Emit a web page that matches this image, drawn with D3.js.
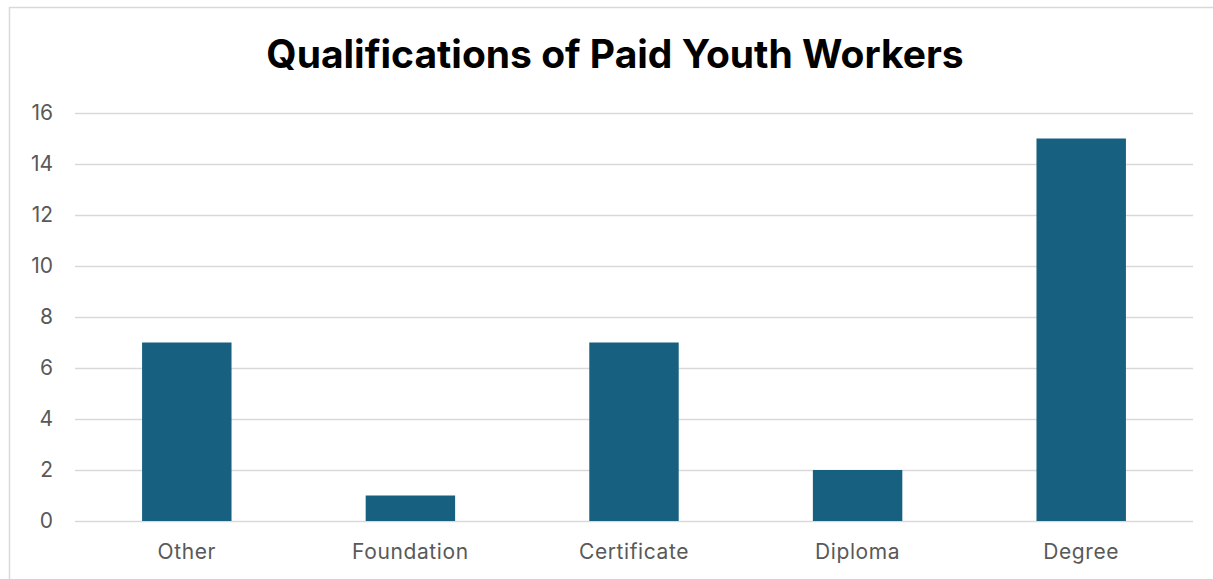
<!DOCTYPE html>
<html>
<head>
<meta charset="utf-8">
<script src="https://cdn.jsdelivr.net/npm/d3@7"></script>
<style>
  body { margin: 0; background: #fff; }
  svg { display: block; }
</style>
</head>
<body>
<svg width="1213" height="579"></svg>
<script>
// chart data
var categories = ["Other", "Foundation", "Certificate", "Diploma", "Degree"];
var counts = [7, 1, 7, 2, 15];
var yTicks = [0, 2, 4, 6, 8, 10, 12, 14, 16];
var title = "Qualifications of Paid Youth Workers";

var svg = d3.select("svg"),
  width = +svg.attr("width"),
  height = +svg.attr("height");

// chart frame (right/bottom edges sit outside the picture)
svg.append("rect")
  .attr("x", 9.5)
  .attr("y", 7.5)
  .attr("width", 1220)
  .attr("height", 600)
  .attr("fill", "#fff")
  .attr("stroke", "#d9d9d9")
  .attr("stroke-width", 1.5);

var plot = { left: 75, right: 1193, top: 113, bottom: 521 };

var xScale = d3.scaleBand()
  .domain(categories)
  .range([plot.left, plot.right])
  .paddingInner(0.6)
  .paddingOuter(0.3);

var yScale = d3.scaleLinear()
  .domain([0, 16])
  .range([plot.bottom, plot.top]);

// gridlines
svg.append("g")
  .selectAll("line")
  .data(yTicks)
  .enter()
  .append("line")
  .attr("x1", plot.left)
  .attr("x2", plot.right)
  .attr("y1", (d) => Math.round(yScale(d)) + 0.5)
  .attr("y2", (d) => Math.round(yScale(d)) + 0.5)
  .attr("stroke", "#d9d9d9")
  .attr("stroke-width", 1.5);

// y axis labels
var yAxis = svg.append("g")
  .attr("transform", "translate(" + (plot.left - 22) + ",0)")
  .call(d3.axisLeft(yScale).tickValues(yTicks).tickSize(0).tickPadding(0));
yAxis.select(".domain").remove();
yAxis.selectAll("text")
  .attr("font-family", "Inter, 'Open Sans', sans-serif")
  .attr("font-size", "21px")
  .attr("fill", "#595959");

// bars
svg.append("g")
  .selectAll("rect")
  .data(categories)
  .enter()
  .append("rect")
  .attr("x", (d) => xScale(d))
  .attr("y", (d, i) => yScale(counts[i]))
  .attr("width", xScale.bandwidth())
  .attr("height", (d, i) => yScale(0) - yScale(counts[i]))
  .attr("fill", "#17607f");

// x axis labels
var xAxis = svg.append("g")
  .attr("transform", "translate(0," + plot.bottom + ")")
  .call(d3.axisBottom(xScale).tickSize(0).tickPadding(23));
xAxis.select(".domain").remove();
xAxis.selectAll("text")
  .attr("font-family", "Inter, 'Open Sans', sans-serif")
  .attr("font-size", "21px")
  .attr("letter-spacing", "0.6px")
  .attr("fill", "#595959");

// title
svg.append("text")
  .attr("x", 615)
  .attr("y", 68)
  .attr("text-anchor", "middle")
  .attr("font-family", "Inter, 'Open Sans', sans-serif")
  .attr("font-weight", "bold")
  .attr("font-size", "39px")
  .attr("fill", "#000")
  .text(title);
</script>
</body>
</html>
